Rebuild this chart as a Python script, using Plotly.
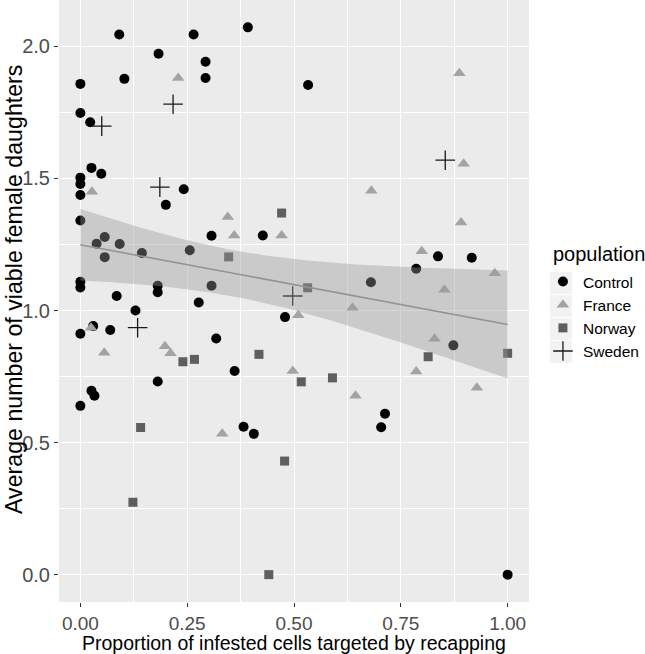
import numpy as np
import plotly.graph_objects as go

# ---- data ----
control_x = [0.091, 0.265, 0.183, 0.293, 0.293, 0.103, 0.0, 0.0, 0.023, 0.026, 0.049, 0.0, 0.0, 0.242, 0.0,
             0.392, 0.533, 0.200, 0.0, 0.307, 0.057, 0.038, 0.092, 0.144, 0.256, 0.057, 0.0, 0.0, 0.181, 0.181,
             0.307, 0.085, 0.277, 0.129, 0.030, 0.0, 0.070, 0.318, 0.181, 0.026, 0.033, 0.427, 0.479, 0.361,
             0.837, 0.916, 0.786, 0.680, 0.873, 0.0, 0.382, 0.406, 0.713, 0.704, 1.0]
control_y = [2.045, 2.045, 1.972, 1.942, 1.880, 1.877, 1.858, 1.748, 1.713, 1.540, 1.518, 1.503, 1.479, 1.459, 1.437,
             2.072, 1.854, 1.400, 1.341, 1.283, 1.278, 1.253, 1.252, 1.218, 1.228, 1.202, 1.109, 1.087, 1.094, 1.069,
             1.094, 1.055, 1.030, 1.000, 0.941, 0.912, 0.926, 0.894, 0.731, 0.696, 0.677, 1.284, 0.975, 0.771,
             1.205, 1.200, 1.158, 1.107, 0.868, 0.639, 0.560, 0.533, 0.609, 0.558, 0.0]

france_x = [0.229, 0.027, 0.887, 0.897, 0.681, 0.025, 0.056, 0.198, 0.211, 0.345, 0.360, 0.471, 0.637, 0.510,
            0.497, 0.644, 0.891, 0.799, 0.970, 0.852, 0.829, 0.786, 0.928, 0.332]
france_y = [1.880, 1.450, 1.898, 1.556, 1.453, 0.935, 0.840, 0.865, 0.838, 1.354, 1.284, 1.284, 1.010, 0.982,
            0.771, 0.677, 1.333, 1.224, 1.141, 1.079, 0.893, 0.769, 0.708, 0.533]

norway_x = [0.240, 0.267, 0.471, 0.347, 0.532, 0.418, 0.517, 0.590, 0.814, 1.0, 0.141, 0.123, 0.478, 0.441]
norway_y = [0.806, 0.815, 1.369, 1.203, 1.086, 0.834, 0.730, 0.745, 0.825, 0.838, 0.557, 0.274, 0.430, 0.0]

sweden_x = [0.217, 0.050, 0.186, 0.134, 0.497, 0.854]
sweden_y = [1.781, 1.698, 1.467, 0.935, 1.055, 1.569]

x_ticks = [0.0, 0.25, 0.5, 0.75, 1.0]
x_ticklabels = ["0.00", "0.25", "0.50", "0.75", "1.00"]
y_ticks = [0.0, 0.5, 1.0, 1.5, 2.0]
y_ticklabels = ["0.0", "0.5", "1.0", "1.5", "2.0"]

# ---- linear fit (like geom_smooth(method = "lm")) on all points ----
all_x = np.array(control_x + france_x + norway_x + sweden_x)
all_y = np.array(control_y + france_y + norway_y + sweden_y)
n = len(all_x)
slope, intercept = np.polyfit(all_x, all_y, 1)
resid = all_y - (intercept + slope * all_x)
s = np.sqrt(np.sum(resid ** 2) / (n - 2))
xbar = all_x.mean()
sxx = np.sum((all_x - xbar) ** 2)
t_crit = 1.985
fx = np.linspace(all_x.min(), all_x.max(), 80)
fy = intercept + slope * fx
se = s * np.sqrt(1.0 / n + (fx - xbar) ** 2 / sxx)
upper = fy + t_crit * se
lower = fy - t_crit * se

FONT = "Liberation Sans, Arial, sans-serif"
PANEL_H = 602.0
PANEL_W = 472.0
L = 59

fig = go.Figure()
fig.add_trace(go.Scatter(x=control_x, y=control_y, mode="markers", name="Control",
                         marker=dict(symbol="circle", size=10, color="#000000")))
fig.add_trace(go.Scatter(x=france_x, y=france_y, mode="markers", name="France",
                         marker=dict(symbol="triangle-up", size=11, color="#A3A3A3")))
fig.add_trace(go.Scatter(x=norway_x, y=norway_y, mode="markers", name="Norway",
                         marker=dict(symbol="square", size=9, color="#5E5E5E")))
fig.add_trace(go.Scatter(x=sweden_x, y=sweden_y, mode="markers", name="Sweden",
                         marker=dict(symbol="cross-thin", size=14, color="#1a1a1a",
                                     line=dict(color="#1a1a1a", width=1.3))))
# ribbon drawn over the points
fig.add_trace(go.Scatter(x=np.concatenate([fx, fx[::-1]]), y=np.concatenate([upper, lower[::-1]]),
                         fill="toself", fillcolor="rgba(153,153,153,0.4)", line=dict(width=0),
                         mode="lines", showlegend=False, hoverinfo="skip"))
fig.add_trace(go.Scatter(x=fx, y=fy, mode="lines", line=dict(color="#939393", width=1.6),
                         showlegend=False, hoverinfo="skip"))

# legend key backgrounds (decoration)
key_centers = [283, 306, 329, 352]
shapes = []
for c in key_centers:
    shapes.append(dict(type="rect", xref="paper", yref="paper", layer="below",
                       x0=(552 - L) / PANEL_W, x1=(574 - L) / PANEL_W,
                       y0=1 - (c + 11) / PANEL_H, y1=1 - (c - 11) / PANEL_H,
                       fillcolor="#F2F2F2", line=dict(width=0)))

fig.update_layout(
    width=645, height=654,
    margin=dict(l=L, r=645 - L - int(PANEL_W), t=0, b=654 - int(PANEL_H)),
    paper_bgcolor="white", plot_bgcolor="#EBEBEB",
    font=dict(family=FONT, color="#000000"),
    legend=dict(font=dict(size=15.5, color="#000000"),
                x=(545 - L) / PANEL_W, xanchor="left", y=1 - 265 / PANEL_H, yanchor="top",
                bgcolor="rgba(0,0,0,0)"),
    showlegend=True,
    shapes=shapes,
    annotations=[
        dict(text="Proportion of infested cells targeted by recapping", xref="paper", yref="paper",
             x=0.5, y=0, yshift=-30, xanchor="center", yanchor="top", showarrow=False,
             borderpad=0, borderwidth=0,
             font=dict(size=19.5, color="#000000", family=FONT)),
        dict(text="Average number of viable female daughters", xref="paper", yref="paper",
             x=0, xshift=-45, y=1 - 290 / PANEL_H, xanchor="center", yanchor="middle", textangle=-90,
             showarrow=False, font=dict(size=23.2, color="#000000", family=FONT)),
        dict(text="population", xref="paper", yref="paper",
             x=(553 - L) / PANEL_W, y=1 - 254 / PANEL_H, xanchor="left", yanchor="middle",
             showarrow=False, font=dict(size=20, color="#000000", family=FONT)),
    ],
)
fig.update_xaxes(
    range=[-0.05, 1.05], tickvals=x_ticks, ticktext=x_ticklabels, automargin=False,
    showgrid=True, gridcolor="white", gridwidth=1.4, zeroline=False,
    ticks="outside", ticklen=4, tickcolor="#333333", tickwidth=1.2,
    tickfont=dict(size=19, color="#4D4D4D", family=FONT),
    minor=dict(tickvals=[0.125, 0.375, 0.625, 0.875], showgrid=True, gridcolor="white", gridwidth=0.7, ticks=""),
    showline=False,
)
fig.update_yaxes(
    range=[-0.1036, 2.1756], tickvals=y_ticks, ticktext=y_ticklabels, automargin=False,
    showgrid=True, gridcolor="white", gridwidth=1.4, zeroline=False,
    ticks="outside", ticklen=4, tickcolor="#333333", tickwidth=1.2,
    tickfont=dict(size=20, color="#4D4D4D", family=FONT),
    minor=dict(tickvals=[0.25, 0.75, 1.25, 1.75], showgrid=True, gridcolor="white", gridwidth=0.7, ticks=""),
    showline=False,
)

fig.write_html("out.html", config={"displayModeBar": False},
               post_script="document.body.style.margin='0px';document.body.style.overflow='hidden';")
